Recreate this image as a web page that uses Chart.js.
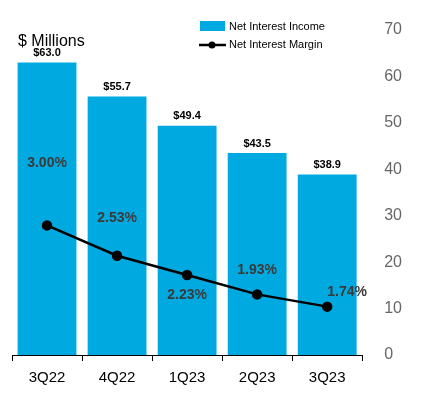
<!DOCTYPE html>
<html><head><meta charset="utf-8">
<script src="https://cdn.jsdelivr.net/npm/chart.js@4.4.0/dist/chart.umd.min.js"></script>
<style>html,body{margin:0;padding:0;background:#fff}#w{width:428px;height:405px}</style>
</head><body><div id="w"><canvas id="c"></canvas></div>
<script>
const categories=['3Q22','4Q22','1Q23','2Q23','3Q23'];
const netInterestIncome=[63.0,55.7,49.4,43.5,38.9];
const netInterestMargin=[3.00,2.53,2.23,1.93,1.74];
const rightTicks=[0,10,20,30,40,50,60,70];
const marginLabelOffsets=[[0,-62],[0,-38],[0,20],[0,-24],[20,-14]];
const BLUE='#00a9e0';
const labels={id:'labels',afterDatasetsDraw(ch){
  const c=ch.ctx;c.save();
  c.textAlign='center';c.textBaseline='bottom';c.font='bold 11px Arial, "Liberation Sans"';c.fillStyle='#000';
  ch.getDatasetMeta(0).data.forEach((b,i)=>c.fillText('$'+netInterestIncome[i].toFixed(1),b.x,b.y-4));
  c.font='bold 14px Arial, "Liberation Sans"';c.fillStyle='#3a3a3a';c.textBaseline='middle';
  ch.getDatasetMeta(1).data.forEach((p,i)=>c.fillText(netInterestMargin[i].toFixed(2)+'%',p.x+marginLabelOffsets[i][0],p.y+marginLabelOffsets[i][1]));
  c.textAlign='left';c.font='16px Arial, "Liberation Sans"';c.fillStyle='#000';c.fillText('$ Millions',18,42);
  c.font='11px Arial, "Liberation Sans"';c.fillStyle=BLUE;c.fillRect(200,21,25,10);
  c.fillStyle='#000';c.fillText('Net Interest Income',229,27);
  c.strokeStyle='#000';c.lineWidth=2.5;c.beginPath();c.moveTo(199,45);c.lineTo(226,45);c.stroke();
  c.beginPath();c.arc(212,45,3.5,0,7);c.fill();c.fillText('Net Interest Margin',229,45);
  const xs=ch.scales.x,y0=ch.scales.y.bottom;c.strokeStyle='#000';c.lineWidth=1;
  c.beginPath();c.moveTo(xs.left,y0+0.5);c.lineTo(xs.right,y0+0.5);
  for(let i=0;i<=categories.length;i++){const x=Math.round(xs.left+i*(xs.right-xs.left)/categories.length)+0.5;c.moveTo(x,y0);c.lineTo(x,y0+6);}
  c.stroke();c.restore();}};
new Chart(document.getElementById('c'),{
 data:{labels:categories,datasets:[
  {type:'bar',data:netInterestIncome,backgroundColor:BLUE,yAxisID:'y',barPercentage:0.84,categoryPercentage:1,order:2},
  {type:'line',data:netInterestMargin,borderColor:'#000',backgroundColor:'#000',borderWidth:2.5,pointRadius:4,yAxisID:'y2',order:1}]},
 options:{responsive:true,maintainAspectRatio:false,animation:false,
  layout:{padding:{left:12,right:12,top:30,bottom:12}},
  plugins:{legend:{display:false},tooltip:{enabled:false}},
  scales:{
   x:{grid:{display:false},border:{display:false},ticks:{color:'#000',font:{size:15,family:'Arial, "Liberation Sans"'},padding:6}},
   y:{position:'right',min:0,max:70,afterBuildTicks:a=>{a.ticks=rightTicks.map(v=>({value:v}))},grid:{display:false},border:{display:false},
      ticks:{color:'#666',font:{size:16,family:'Arial, "Liberation Sans"'},padding:14}},
   y2:{display:false,min:0.99,max:6.03}}},
 plugins:[labels]});
</script></body></html>
